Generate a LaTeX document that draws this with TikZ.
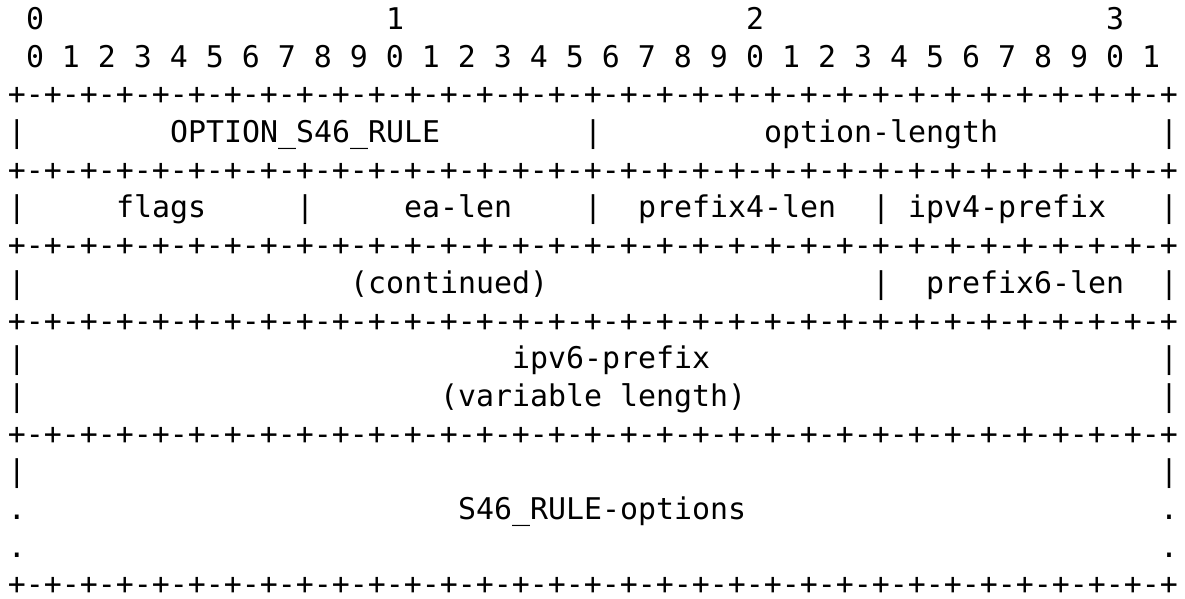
\documentclass[tikz,border=0pt]{standalone}
\usepackage{fontspec}
\newfontfamily\asciimono{DejaVu Sans Mono}
\tikzset{
  cell/.style={anchor=base west, inner sep=0pt, outer sep=0pt,
    font=\asciimono\fontsize{29.9}{36}\selectfont, text=black},
}
\def\plusline{+-+-+-+-+-+-+-+-+-+-+-+-+-+-+-+-+-+-+-+-+-+-+-+-+-+-+-+-+-+-+-+-+}
\begin{document}
\begin{tikzpicture}[x=1pt,y=1pt]
\useasboundingbox[fill=white] (0,0) rectangle (1185,-598);
% bit ruler
\foreach \c/\t in {1/0, 21/1, 41/2, 61/3}
  \node[cell] (tens\c) at ({8+18*\c},-29.5) {\t};
\node[cell] (bits) at (26,{-29.5-37.69}) {0 1 2 3 4 5 6 7 8 9 0 1 2 3 4 5 6 7 8 9 0 1 2 3 4 5 6 7 8 9 0 1};
% separator lines
\foreach \r in {2,4,6,8,11,15}
  \node[cell] (sep\r) at (8,{-29.5-37.69*\r}) {\plusline};
% field rows
\foreach \r/\c/\t in {
  3/0/|, 3/9/OPTION\_S46\_RULE, 3/32/|, 3/42/option-length, 3/64/|,
  5/0/|, 5/6/flags, 5/16/|, 5/22/ea-len, 5/32/|, 5/35/prefix4-len, 5/48/|, 5/50/ipv4-prefix, 5/64/|,
  7/0/|, 7/19/(continued), 7/48/|, 7/51/prefix6-len, 7/64/|,
  9/0/|, 9/28/ipv6-prefix, 9/64/|,
  10/0/|, 10/24/(variable length), 10/64/|,
  12/0/|, 12/64/|,
  13/0/., 13/25/S46\_RULE-options, 13/64/.,
  14/0/., 14/64/.}
  \node[cell] (f\r-\c) at ({8+18*\c},{-29.5-37.69*\r}) {\t};
\end{tikzpicture}
\end{document}
